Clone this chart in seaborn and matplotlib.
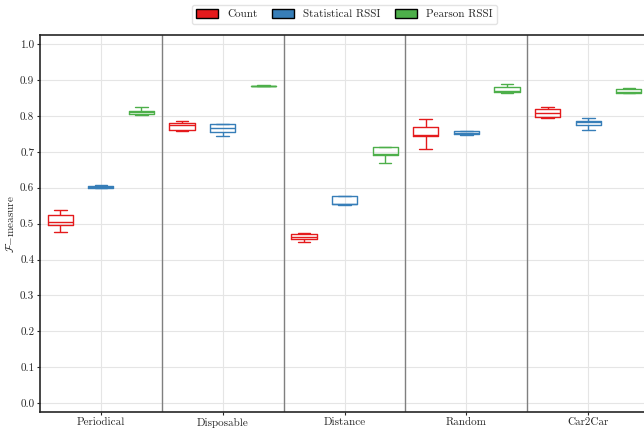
import matplotlib
matplotlib.use("Agg")
import matplotlib.pyplot as plt
import pandas as pd
import seaborn as sns
from matplotlib.patches import Patch

# categories and methods
scenarios = ["Periodical", "Disposable", "Distance", "Random", "Car2Car"]
methods = ["Count", "Statistical RSSI", "Pearson RSSI"]
colors = ["#e41a1c", "#377eb8", "#4daf4a"]

# five-number summaries: [low, q1, median, q3, high]
count_vals = [
    [0.476, 0.497, 0.504, 0.525, 0.537],
    [0.758, 0.762, 0.774, 0.780, 0.785],
    [0.450, 0.458, 0.463, 0.471, 0.474],
    [0.708, 0.744, 0.746, 0.770, 0.792],
    [0.795, 0.796, 0.807, 0.819, 0.824],
]
stat_vals = [
    [0.598, 0.600, 0.602, 0.605, 0.607],
    [0.743, 0.755, 0.766, 0.778, 0.778],
    [0.551, 0.554, 0.556, 0.576, 0.576],
    [0.747, 0.749, 0.752, 0.758, 0.758],
    [0.761, 0.775, 0.782, 0.787, 0.794],
]
pearson_vals = [
    [0.803, 0.805, 0.810, 0.815, 0.825],
    [0.883, 0.883, 0.884, 0.884, 0.885],
    [0.668, 0.692, 0.693, 0.713, 0.714],
    [0.865, 0.866, 0.868, 0.881, 0.890],
    [0.863, 0.863, 0.866, 0.874, 0.877],
]

rows = []
for m, vals in zip(methods, [count_vals, stat_vals, pearson_vals]):
    for s, v in zip(scenarios, vals):
        for x in v:
            rows.append({"Scenario": s, "Method": m, "value": x})
df = pd.DataFrame(rows)

sns.set_theme(style="whitegrid")
plt.rcParams["font.family"] = "serif"
plt.rcParams["font.serif"] = ["cmr10", "DejaVu Serif"]
plt.rcParams["mathtext.fontset"] = "cm"
plt.rcParams["axes.formatter.use_mathtext"] = True

fig = plt.figure(figsize=(6.44, 4.28), dpi=100)
ax = fig.add_axes([0.062, 0.037, 0.946, 0.881])

sns.boxplot(data=df, x="Scenario", y="value", hue="Method", order=scenarios,
            hue_order=methods, palette=colors, fill=False, width=1.0, gap=0.38,
            whis=(0, 100), linewidth=1, legend=False, ax=ax)

for xs in [0.5, 1.5, 2.5, 3.5]:
    ax.axvline(xs, color="#7f7f7f", lw=1, zorder=1)

ax.set_xlim(-0.5, 4.5)
ax.set_ylim(-0.025, 1.025)
ax.set_yticks([i / 10 for i in range(11)])
ax.set_yticklabels([f"{i / 10:.1f}" for i in range(11)])
ax.set_xlabel("")
ax.set_ylabel(r"$\mathcal{F}$$-$measure", fontsize=8, labelpad=3)
ax.tick_params(axis="both", labelsize=8, length=2.5, width=0.8, color="#262626",
               pad=1.5, bottom=True, left=True)
ax.grid(True, color="#e5e5e5", lw=0.8)
for side in ["left", "bottom", "top", "right"]:
    ax.spines[side].set_color("#262626")
    ax.spines[side].set_linewidth(1.2)

handles = [Patch(facecolor=c, edgecolor="black", label=m) for c, m in zip(colors, methods)]
ax.legend(handles=handles, loc="lower center", bbox_to_anchor=(0.5, 1.015), ncol=3,
          fontsize=8, frameon=True, edgecolor="#dddddd", handlelength=2.0,
          handleheight=0.8, columnspacing=1.3)

fig.savefig("out.png", dpi=100)
